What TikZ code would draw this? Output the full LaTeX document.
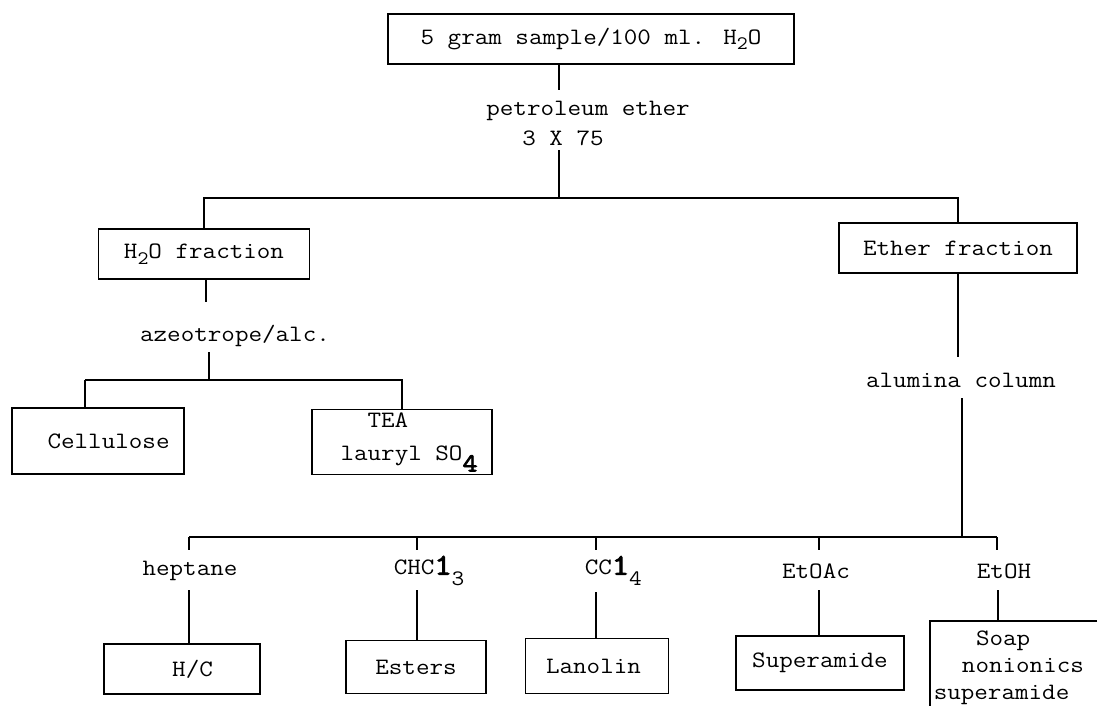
\documentclass[tikz,border=0pt]{standalone}
\usepackage{fontspec}
\setmainfont{Latin Modern Mono}[FakeStretch=1.12]
\newfontfamily\heavytt{Latin Modern Mono}[FakeStretch=1.12, FakeBold=3]
\newcommand{\chemsub}[1]{\raisebox{-0.55ex}{\fontsize{19}{19}\selectfont #1}}
\newcommand{\bigel}{{\heavytt\fontsize{30}{30}\selectfont 1}}
\newcommand{\lowsub}[1]{\raisebox{-1.1ex}{\fontsize{22}{22}\selectfont #1}}
\begin{document}
\begin{tikzpicture}[x=1pt,y=-1pt,line width=1.5pt,
  every node/.style={font=\fontsize{23.5}{30}\selectfont, inner sep=0pt},
  box/.style={draw, rectangle, line width=1.6pt}]
\useasboundingbox (0,0) rectangle (1099,706);

% ---- top ----
\node[box, minimum width=406pt, minimum height=50pt] (top) at (591,39) {5 gram sample/100 ml. H\chemsub{2}O};
\node (pet1) at (588,111) {petroleum ether};
\node (pet2) at (563,138) {3 X 75};
\coordinate (t1) at (559,90);
\coordinate (t2) at (559,150);
\coordinate (j1) at (559,198);
\draw (top.south -| t1) -- (t1);
\draw (t2) -- (j1);

% ---- second level ----
\node[box, minimum width=211pt, minimum height=50pt] (h2o) at (204,254) {H\chemsub{2}O fraction};
\node[box, minimum width=238pt, minimum height=50pt] (ether) at (958,248) {Ether fraction};
\draw (h2o.north) |- (j1) -| (ether.north);

% ---- water branch ----
\node (azeo) at (235,336) {azeotrope/alc.};
\coordinate (a1) at (206,302);
\coordinate (a2) at (209,352);
\coordinate (j2) at (209,380);
\draw (h2o.south -| a1) -- (a1);
\draw (a2) -- (j2);
\node[box, minimum width=172pt, minimum height=66pt] (cell) at (98,441) {\hspace*{0.9em}Cellulose};
\node[box, minimum width=180pt, minimum height=65pt, align=center] (tea) at (402,442) {\hspace*{-1.2em}TEA\\[3pt]\hspace*{0.6em}lauryl SO\lowsub{\heavytt\fontsize{26}{26}\selectfont 4}};
\coordinate (cl) at (85,380);
\draw (cl) -- (j2) -| (tea.north);
\draw (cl) -- (cl |- cell.north);

% ---- ether branch ----
\node (alum) at (961,380) {alumina column};
\coordinate (e1) at (958,357);
\coordinate (e2) at (962,398);
\coordinate (j3) at (962,537);
\draw (ether.south) -- (e1);
\draw (e2) -- (j3);

% bar and stubs
\coordinate (b1) at (189,537);
\coordinate (b2) at (417,537);
\coordinate (b3) at (596,537);
\coordinate (b4) at (819,537);
\coordinate (b5) at (997,537);
\draw (b1) -- (b5);
\foreach \i in {1,...,5} {\draw (b\i) -- ++(0,13);}

% solvent labels
\node (hep) at (190,571) {heptane};
\node[anchor=west] (chcl) at (393,571) {CHC\bigel\lowsub{3}};
\node[anchor=west] (ccl) at (584,571) {CC\bigel\lowsub{4}};
\node (etoac) at (816,571) {EtOAc};
\node (etoh) at (1004,571) {EtOH};

% fraction boxes
\node[box, minimum width=156pt, minimum height=50pt] (hc) at (182,669) {\hspace*{0.9em}H/C};
\node[box, minimum width=140pt, minimum height=53pt] (est) at (416,667) {Esters};
\node[box, minimum width=143pt, minimum height=55pt] (lan) at (597,666) {\hspace*{-0.3em}Lanolin};
\node[box, minimum width=168pt, minimum height=54pt] (sup) at (820,663) {Superamide};
\node[anchor=north west, align=left, font=\fontsize{23.5}{27}\selectfont] (soap) at (933,630) {\hspace*{1.8em}Soap\\\hspace*{1.2em}nonionics\\superamide};
\coordinate (sbtl) at (930,621);
\draw (1097,621) -- (sbtl) -- (930,706);

\coordinate (u1) at (189,590);
\coordinate (u2) at (417,590);
\coordinate (u3) at (596,592);
\coordinate (u4) at (819,590);
\coordinate (u5) at (998,590);
\draw (u1) -- (u1 |- hc.north);
\draw (u2) -- (u2 |- est.north);
\draw (u3) -- (u3 |- lan.north);
\draw (u4) -- (u4 |- sup.north);
\draw (u5) -- (u5 |- sbtl);
\end{tikzpicture}
\end{document}
